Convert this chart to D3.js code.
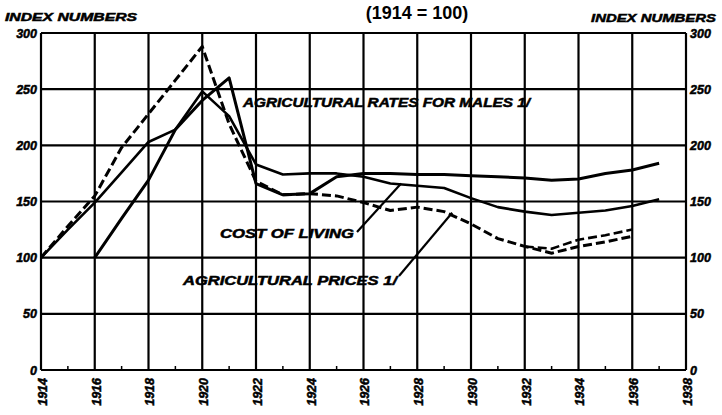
<!DOCTYPE html>
<html>
<head>
<meta charset="utf-8">
<script src="https://cdn.jsdelivr.net/npm/d3@7"></script>
<style>
  html, body { margin: 0; padding: 0; background: #fff; }
  svg { display: block; }
  text { font-family: "Liberation Sans", Arial, sans-serif; font-weight: bold; font-style: italic; fill: #000; }
</style>
</head>
<body>
<svg id="chart" width="722" height="415"></svg>
<script>
// ---- data ----
const costYears   = [1914,1915,1916,1917,1918,1919,1920,1921,1922,1923,1924,1925,1926,1927,1928,1929,1930,1931,1932,1933,1934,1935,1936,1937];
const costOfLiving = [100, 125, 149, 176, 203, 214, 248, 226, 183, 174, 175, 175, 172, 166, 164, 162, 153, 145, 141, 138, 140, 142, 146, 152];

const wageYears = [1916,1917,1918,1919,1920,1921,1922,1923,1924,1925,1926,1927,1928,1929,1930,1931,1932,1933,1934,1935,1936,1937];
const wageRates = [100, 135, 169, 214, 240, 260, 166, 156, 157, 172, 175, 175, 174, 174, 173, 172, 171, 169, 170, 175, 178, 184];

const priceYears = [1914,1915,1916,1917,1918,1919,1920,1921,1922,1923,1924,1925,1926,1927,1928,1929,1930,1931,1932,1933,1934,1935,1936];
const agPrices   = [100, 128, 155, 198, 228, 258, 288, 219, 168, 156, 157, 155, 149, 142, 145, 141, 130, 117, 110, 104, 110, 114, 119];

const price2Years = [1932,1933,1934,1935,1936];
const agPrices2   = [110, 108, 116, 120, 125];

const yTicks = [0, 50, 100, 150, 200, 250, 300];
const xTickYears = [1914,1916,1918,1920,1922,1924,1926,1928,1930,1932,1934,1936,1938];
const xMinorYears = [1915,1917,1919,1921,1923,1925,1927,1929,1931,1933,1935,1937];

const titleText = "(1914 = 100)";
const axisTitle = "INDEX NUMBERS";
const labelWages = "AGRICULTURAL RATES FOR MALES 1/";
const labelCost = "COST OF LIVING";
const labelPrices = "AGRICULTURAL PRICES 1/";

// ---- layout ----
const svg = d3.select("#chart");
const L = 41, R = 686, T = 33, B = 370;
const x = d3.scaleLinear().domain([1914, 1938]).range([L, R]);
const y = d3.scaleLinear().domain([0, 300]).range([B, T]);

function heavy(sel, size) {
  return sel.style("font-size", size + "px").attr("stroke", "#000").attr("stroke-width", 0.5);
}

// title (cut off at top in the reference; kept just inside here)
svg.append("text").attr("x", 417).attr("y", 19).attr("text-anchor", "middle")
  .style("font-size", "18px").style("font-style", "normal").text(titleText);

// axis titles
heavy(svg.append("text").attr("x", 5).attr("y", 21), 11)
  .attr("textLength", 132).attr("lengthAdjust", "spacingAndGlyphs").text(axisTitle);
heavy(svg.append("text").attr("x", 591).attr("y", 22), 11)
  .attr("textLength", 125).attr("lengthAdjust", "spacingAndGlyphs").text(axisTitle);

// grid
const grid = svg.append("g").attr("stroke", "#000").attr("stroke-width", 2.2);
grid.selectAll("line.h").data(yTicks).join("line")
  .attr("x1", L).attr("x2", R).attr("y1", d => y(d)).attr("y2", d => y(d));
grid.selectAll("line.v").data(xTickYears).join("line")
  .attr("x1", d => x(d)).attr("x2", d => x(d)).attr("y1", T).attr("y2", B);
// minor ticks at the bottom
svg.append("g").attr("stroke", "#000").attr("stroke-width", 1.5)
  .selectAll("line").data(xMinorYears).join("line")
  .attr("x1", d => x(d)).attr("x2", d => x(d)).attr("y1", B).attr("y2", B - 4);

// axes labels
const leftAxis = d3.axisLeft(y).tickValues(yTicks).tickSize(0).tickPadding(4);
const gl = svg.append("g").attr("transform", `translate(${L},0)`).call(leftAxis);
const rightAxis = d3.axisRight(y).tickValues(yTicks).tickSize(0).tickPadding(4);
const gr = svg.append("g").attr("transform", `translate(${R},0)`).call(rightAxis);
const bottomAxis = d3.axisBottom(x).tickValues(xTickYears).tickFormat(d3.format("d")).tickSize(0);
const gb = svg.append("g").attr("transform", `translate(0,${B})`).call(bottomAxis);
[gl, gr, gb].forEach(g => {
  g.select(".domain").remove();
  g.selectAll("text").attr("fill", "#000").attr("stroke", "#000").attr("stroke-width", 0.5)
    .style("font-family", '"Liberation Sans", Arial, sans-serif')
    .style("font-weight", "bold").style("font-style", "italic").style("font-size", "12.5px");
});
gb.selectAll("text")
  .attr("transform", "rotate(-90)")
  .attr("text-anchor", "end").attr("x", -8).attr("y", 1).attr("dy", "0.35em");

// ---- series ----
const line = d3.line().x(d => x(d[0])).y(d => y(d[1]));
const series = svg.append("g").attr("fill", "none").attr("stroke", "#000").attr("stroke-linejoin", "round");

series.append("path").datum(d3.zip(costYears, costOfLiving))
  .attr("d", line).attr("stroke-width", 2.6);
series.append("path").datum(d3.zip(wageYears, wageRates))
  .attr("d", line).attr("stroke-width", 3);
series.append("path").datum(d3.zip(priceYears, agPrices))
  .attr("d", line).attr("stroke-width", 3).attr("stroke-dasharray", "9,4");
series.append("path").datum(d3.zip(price2Years, agPrices2))
  .attr("d", line).attr("stroke-width", 2.6).attr("stroke-dasharray", "9,4");

// ---- labels with pointers ----
heavy(svg.append("text").attr("x", 243).attr("y", 107), 12)
  .attr("textLength", 287).attr("lengthAdjust", "spacingAndGlyphs").text(labelWages);
heavy(svg.append("text").attr("x", 220).attr("y", 238), 12)
  .attr("textLength", 134).attr("lengthAdjust", "spacingAndGlyphs").text(labelCost);
heavy(svg.append("text").attr("x", 183).attr("y", 285), 12)
  .attr("textLength", 214).attr("lengthAdjust", "spacingAndGlyphs").text(labelPrices);

const ptr = svg.append("g").attr("stroke", "#000").attr("stroke-width", 2.2);
ptr.append("line").attr("x1", 357).attr("y1", 232).attr("x2", x(1927.4)).attr("y2", y(166));
ptr.append("line").attr("x1", 399).attr("y1", 276).attr("x2", x(1929.3)).attr("y2", y(140));
</script>
</body>
</html>
